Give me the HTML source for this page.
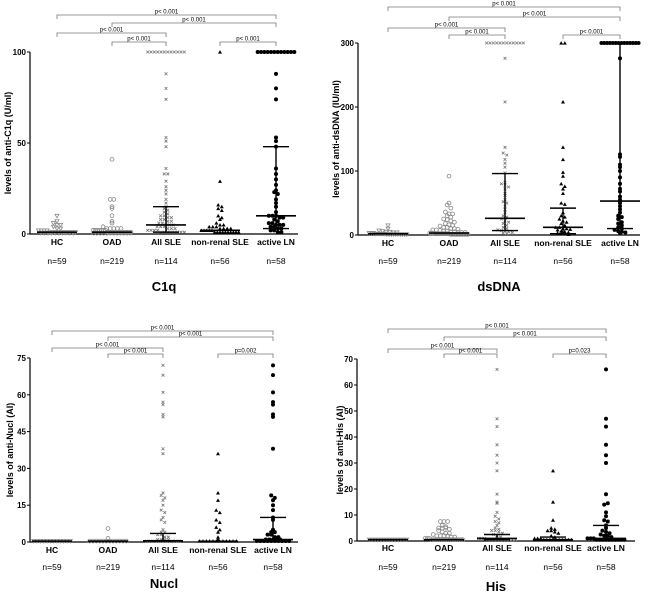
<!DOCTYPE html>
<html><head><meta charset="utf-8"><style>
html,body{margin:0;padding:0;background:#fff;}
svg{display:block;font-family:"Liberation Sans",Arial,sans-serif;}
</style></head><body>
<svg id="fig" width="650" height="593" viewBox="0 0 650 593" xmlns="http://www.w3.org/2000/svg"></svg>
<script>
const groups = ["HC","OAD","All SLE","non-renal SLE","active LN"];
const groupN = ["n=59","n=219","n=114","n=56","n=58"];
const R = (v,k)=>Array(k).fill(v);

// C1q
const c1qHC = [10,7,6,5,5,4,3,3,2,2,2,2,...R(1,10),...R(0.5,10)];
const c1qOAD = [41,19,19,15,14,10,7,6,4,3,3,3,3,3,...R(2,7),...R(1,12),...R(0.5,12)];
const c1qSLE = [...R(100,12),88,80,74,53,51,48,36,33,33,29,26,24,22,19,17,15,14,13,12,11,10,10,9,9,8,8,7,7,6,6,5,5,5,4,4,4,3,3,3,2,2,2,2,...R(1,8)];
const c1qNR = [100,29,16,15,14,13,10,9,8,6,5,5,4,4,4,3,3,3,3,2,2,2,2,2,...R(1,10)];
const c1qLN = [...R(100,12),88,80,74,53,51,48,36,33,30,27,24,23,22,19,17,15,12,10,10,10,9,9,8,7,6,6,5,5,5,4,4,3,3,2,2,1,1];
const c1qMed = [1,1,5,2,10];
const c1qIQR = [null,null,[1,15],null,[3,48]];

// dsDNA
const dsHC = [15,10,7,6,5,5,4,4,3,3,3,2,2,2,2,2,...R(1,10)];
const dsOAD = [92,50,47,42,36,33,33,30,28,25,24,22,20,18,16,15,14,12,12,10,10,9,8,8,7,6,6,5,5,4,4,4,3,3,3,...R(2,10),...R(1,12)];
const dsSLE = [...R(300,12),276,208,137,128,125,118,112,106,97,82,80,78,75,72,65,62,55,52,50,45,40,35,30,28,25,22,20,18,15,12,10,8,7,6,5,4,3,2];
const dsNR = [300,300,208,137,118,98,92,80,76,72,65,50,48,35,30,28,25,22,20,18,15,12,12,10,10,9,8,6,5,4,3,2,2,1];
const dsLN = [...R(300,14),276,126,122,110,106,100,90,80,72,68,60,55,50,45,40,35,30,28,25,20,18,15,12,10,8,6,5,4,3];
const dsMed = [2,3,26,12,53];
const dsIQR = [null,null,[7,96],[2,42],[10,300]];

// Nucl
const nuHC = R(0.4,12);
const nuOAD = [5.5,1.5,...R(0.4,12)];
const nuSLE = [72,68,61,57,56,52,51,38,36,20,19,18,17,15,13,12,10,9,8,5,4,4,3,3,2,2,1,1,1,1,...R(0.4,10)];
const nuNR = [36,20,17,13,12,9,8,6,5,4,2,1,...R(0.4,12)];
const nuLN = [72,68,61,57,56,52,51,38,19,18,17,15,13,10,9,5,4,4,3,3,2,2,1,1,1,1,1,...R(0.4,10)];
const nuMed = [0.4,0.4,0.5,0.3,1];
const nuIQR = [null,null,[0.4,3.5],null,[0.5,10]];

// His
const hiHC = R(0.5,14);
const hiOAD = [7.5,7.5,7.5,6,5.5,5,5,5,4.5,4,3.5,3,3,2.5,2,2,2,2,1.5,1.5,1,1,1,...R(0.5,15)];
const hiSLE = [66,47,44,37,33,30,27,18,15,14.5,11,9.5,8.5,7.5,7,6,5,4.5,4,4,3.5,3,2.5,2,1.5,1,1,1,...R(0.5,10)];
const hiNR = [27,15,8,5,4.5,4,4,3.5,3,2,1.5,1,1,1,...R(0.5,10)];
const hiLN = [66,47,44,37,33,30,18,14,14.5,11,9.5,8,7.5,6,5,4,3.5,3,2.5,2,2,1.5,1,1,1,...R(0.5,10)];
const hiMed = [0.5,0.5,1,0.5,1];
const hiIQR = [null,null,[0.5,2.5],[0.5,1.5],[0.5,6]];

const c1qTicks=[0,50,100], dsTicks=[0,100,200,300], nuTicks=[0,15,30,45,60,75], hiTicks=[0,10,20,30,40,50,60,70];
const pStd=["p< 0.001","p< 0.001","p< 0.001","p< 0.001","p< 0.001"];

const panels=[
 {id:"c1q",data:[c1qHC,c1qOAD,c1qSLE,c1qNR,c1qLN],med:c1qMed,iqr:c1qIQR,ticks:c1qTicks,max:100,ax:30,xEnd:298,yT:52,yB:234,cx:[57,112,166,220,276],br:[15,23,33,42],pl:pStd,lab:242,n:261,ty:291,title:"C1q",yt:"levels of anti-C1q  (U/ml)",ytx:8},
 {id:"dsdna",data:[dsHC,dsOAD,dsSLE,dsNR,dsLN],med:dsMed,iqr:dsIQR,ticks:dsTicks,max:300,ax:358,xEnd:640,yT:43,yB:235,cx:[388,449,505,563,620],br:[7,17,28,35],pl:pStd,lab:243,n:261,ty:291,title:"dsDNA",yt:"levels of anti-dsDNA  (IU/ml)",ytx:336},
 {id:"nucl",data:[nuHC,nuOAD,nuSLE,nuNR,nuLN],med:nuMed,iqr:nuIQR,ticks:nuTicks,max:75,ax:30,xEnd:298,yT:358,yB:542,cx:[52,108,163,218,273],br:[331,337,348,354],pl:["p< 0.001","p< 0.001","p< 0.001","p< 0.001","p=0.002"],lab:550,n:567,ty:588,title:"Nucl",yt:"levels of anti-Nucl (AI)",ytx:10},
 {id:"his",data:[hiHC,hiOAD,hiSLE,hiNR,hiLN],med:hiMed,iqr:hiIQR,ticks:hiTicks,max:70,ax:357,xEnd:635,yT:359,yB:541,cx:[388,444,497,553,606],br:[329,337,349,354],pl:["p< 0.001","p< 0.001","p< 0.001","p< 0.001","p=0.023"],lab:548,n:567,ty:591,title:"His",yt:"levels of anti-His (AI)",ytx:340}
];

const NS="http://www.w3.org/2000/svg";
const svg=document.getElementById('fig');
function mk(tag,attrs,parent){const e=document.createElementNS(NS,tag);for(const k in attrs)e.setAttribute(k,attrs[k]);(parent||svg).appendChild(e);return e;}

panels.forEach(p=>{
 const g=mk('g',{});
 
 
 const y=v=>p.yB-(v/p.max)*(p.yB-p.yT);
 const ya=mk('line',{x1:p.ax,y1:p.yT,x2:p.ax,y2:p.yB,stroke:'#000','stroke-width':1.2},g);
 
 
 const xa=mk('line',{x1:p.ax,y1:p.yB,x2:p.xEnd,y2:p.yB,stroke:'#000','stroke-width':1.2},g);
 
 
 p.ticks.forEach(t=>{
  mk('line',{x1:p.ax-3,y1:y(t),x2:p.ax,y2:y(t),stroke:'#000','stroke-width':1},g);
  const tl=mk('text',{x:p.ax-4,y:y(t)+3,'text-anchor':'end','font-size':8,'font-weight':'bold'},g);
  tl.textContent=t;
  
  
 });
 const yt=mk('text',{x:p.ytx,y:(p.yT+p.yB)/2,'text-anchor':'middle','font-size':9,'font-weight':'bold',transform:`rotate(-90 ${p.ytx} ${(p.yT+p.yB)/2})`,dy:3},g);
 yt.textContent=p.yt;
 
 
 groups.forEach((gn,i)=>{
  const l=mk('text',{x:p.cx[i],y:p.lab+3,'text-anchor':'middle','font-size':8.5,'font-weight':'bold'},g);
  l.textContent=gn;
  
  
  const n=mk('text',{x:p.cx[i],y:p.n+3,'text-anchor':'middle','font-size':8.5},g);
  n.textContent=groupN[i];
  
  
 });
 const tt=mk('text',{x:(p.ax+p.xEnd)/2,y:p.ty,'text-anchor':'middle','font-size':13,'font-weight':'bold'},g);
 tt.textContent=p.title;
 
 
 const brs=[[0,4,0],[1,4,1],[0,2,2],[1,2,3],[3,4,3]];
 brs.forEach((b,k)=>{
  const x1=p.cx[b[0]],x2=p.cx[b[1]],yy=p.br[b[2]];
  const pth=mk('path',{d:`M${x1} ${yy+4}V${yy}H${x2}V${yy+4}`,fill:'none',stroke:'#777','stroke-width':0.8},g);
  
  
  const t=mk('text',{x:(x1+x2)/2,y:yy-1.5,'text-anchor':'middle','font-size':6},g);
  t.textContent=p.pl[k];
  
  
 });
 p.data.forEach((arr,i)=>{
  const bins={};
  arr.forEach(v=>{const b=Math.round(y(v)/3.5);(bins[b]=bins[b]||[]).push(v);});
  Object.keys(bins).forEach(b=>{
   const vs=bins[b];const cnt=vs.length;const sp=Math.min(3.6,40/Math.max(cnt,1));
   vs.forEach((v,k)=>{
    const px=p.cx[i]+(k-(cnt-1)/2)*sp, py=y(v);
    let e;
    if(i===0) e=mk('path',{d:`M${px-2} ${py-1.5}L${px+2} ${py-1.5}L${px} ${py+2}Z`,fill:'none',stroke:'#888','stroke-width':0.8},g);
    else if(i===1) e=mk('circle',{cx:px,cy:py,r:1.9,fill:'none',stroke:'#888','stroke-width':0.8},g);
    else if(i===2) e=mk('path',{d:`M${px-1.4} ${py-1.4}L${px+1.4} ${py+1.4}M${px-1.4} ${py+1.4}L${px+1.4} ${py-1.4}`,stroke:'#777','stroke-width':0.8},g);
    else if(i===3) e=mk('path',{d:`M${px-2} ${py+1.6}L${px+2} ${py+1.6}L${px} ${py-1.9}Z`,fill:'#000'},g);
    else e=mk('circle',{cx:px,cy:py,r:2,fill:'#000'},g);
    
    
   });
  });
  const m=mk('line',{x1:p.cx[i]-20,x2:p.cx[i]+20,y1:y(p.med[i]),y2:y(p.med[i]),stroke:'#000','stroke-width':1.6},g);
  
  
  const q=p.iqr[i];
  if(q){
   const e=mk('path',{d:`M${p.cx[i]} ${y(q[0])}V${y(q[1])}M${p.cx[i]-13} ${y(q[0])}H${p.cx[i]+13}M${p.cx[i]-13} ${y(q[1])}H${p.cx[i]+13}`,stroke:'#000','stroke-width':1.4,fill:'none'},g);
   
   
  }
 });
});
</script>
</body></html>
